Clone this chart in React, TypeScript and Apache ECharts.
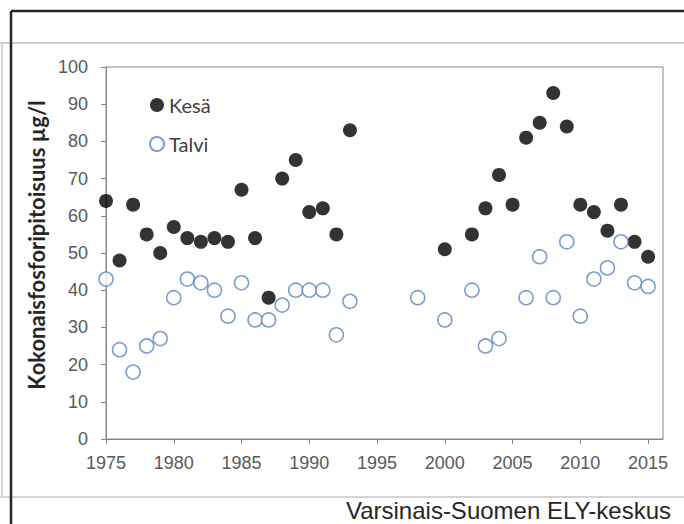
import React, { useEffect, useRef } from "react";
import * as echarts from "echarts";

const kesaYears = [1975, 1976, 1977, 1978, 1979, 1980, 1981, 1982, 1983, 1984, 1985, 1986, 1987, 1988, 1989, 1990, 1991, 1992, 1993, 2000, 2002, 2003, 2004, 2005, 2006, 2007, 2008, 2009, 2010, 2011, 2012, 2013, 2014, 2015];
const kesaValues = [64, 48, 63, 55, 50, 57, 54, 53, 54, 53, 67, 54, 38, 70, 75, 61, 62, 55, 83, 51, 55, 62, 71, 63, 81, 85, 93, 84, 63, 61, 56, 63, 53, 49];

const talviYears = [1975, 1976, 1977, 1978, 1979, 1980, 1981, 1982, 1983, 1984, 1985, 1986, 1987, 1988, 1989, 1990, 1991, 1992, 1993, 1998, 2000, 2002, 2003, 2004, 2006, 2007, 2008, 2009, 2010, 2011, 2012, 2013, 2014, 2015];
const talviValues = [43, 24, 18, 25, 27, 38, 43, 42, 40, 33, 42, 32, 32, 36, 40, 40, 40, 28, 37, 38, 32, 40, 25, 27, 38, 49, 38, 53, 33, 43, 46, 53, 42, 41];

const xTicks = [1975, 1980, 1985, 1990, 1995, 2000, 2005, 2010, 2015];
const seriesNames = ["Kesä", "Talvi"];
const yTitle = "Kokonaisfosforipitoisuus µg/l";
const footer = "Varsinais-Suomen ELY-keskus";

export default function App() {
  const ref = useRef<HTMLDivElement>(null);
  useEffect(() => {
    if (!ref.current) return;
    const chart = echarts.init(ref.current, null, { renderer: "svg" });
    const axisGray = "#868686";
    const labelColor = "#595959";
    chart.setOption({
      animation: false,
      backgroundColor: "#ffffff",
      grid: {
        left: 106,
        top: 67,
        right: 21,
        bottom: 85,
        show: true,
        borderColor: axisGray,
        borderWidth: 1,
        backgroundColor: "transparent",
      },
      legend: {
        orient: "vertical",
        left: 144,
        top: 90,
        itemWidth: 14,
        itemHeight: 14,
        itemGap: 19,
        icon: "circle",
        data: seriesNames,
        textStyle: { fontFamily: "Lato", fontSize: 20, color: "#404040" },
      },
      xAxis: {
        type: "value",
        min: 1975,
        max: 2016.1,
        interval: 5,
        splitLine: { show: false },
        axisLine: { lineStyle: { color: axisGray, width: 1 } },
        axisTick: { show: true, length: 5, customValues: xTicks, lineStyle: { color: axisGray } },
        axisLabel: {
          customValues: xTicks,
          formatter: (v: number) => String(v),
          margin: 15,
          color: labelColor,
          fontSize: 18,
          fontFamily: "Liberation Sans, Arial, sans-serif",
        },
      },
      yAxis: {
        type: "value",
        min: 0,
        max: 100,
        interval: 10,
        splitLine: { show: false },
        axisLine: { show: true, lineStyle: { color: axisGray, width: 1 } },
        axisTick: { show: true, length: 5, lineStyle: { color: axisGray } },
        axisLabel: {
          margin: 18,
          color: labelColor,
          fontSize: 18,
          fontFamily: "Liberation Sans, Arial, sans-serif",
        },
      },
      series: [
        {
          name: seriesNames[0],
          type: "scatter",
          symbol: "circle",
          symbolSize: 14,
          itemStyle: { color: "#000000" },
          data: kesaYears.map((y, i) => [y, kesaValues[i]]),
        },
        {
          name: seriesNames[1],
          type: "scatter",
          symbol: "circle",
          symbolSize: 14,
          itemStyle: { color: "#ffffff", borderColor: "#5a86c0", borderWidth: 1.6 },
          data: talviYears.map((y, i) => [y, talviValues[i]]),
        },
      ],
      graphic: [
        { type: "line", shape: { x1: 0, y1: 43, x2: 684, y2: 43 }, style: { stroke: "#cfcfcf", lineWidth: 2 }, silent: true },
        { type: "line", shape: { x1: 0, y1: 497, x2: 684, y2: 497 }, style: { stroke: "#d4d4d4", lineWidth: 2 }, silent: true },
        { type: "line", shape: { x1: 2, y1: 43, x2: 2, y2: 497 }, style: { stroke: "#d4d4d4", lineWidth: 2 }, silent: true },
        { type: "line", shape: { x1: 11, y1: 11, x2: 684, y2: 11 }, style: { stroke: "#262626", lineWidth: 2.5 }, silent: true },
        { type: "line", shape: { x1: 11, y1: 11, x2: 11, y2: 524 }, style: { stroke: "#262626", lineWidth: 2.5 }, silent: true },
        {
          type: "text",
          x: 36,
          y: 245,
          rotation: Math.PI / 2,
          style: {
            text: yTitle,
            fontFamily: "Lato",
            fontWeight: "bold",
            fontSize: 22,
            fill: "#262626",
            align: "center",
            verticalAlign: "middle",
          },
        },
        {
          type: "text",
          x: 671,
          y: 510,
          style: {
            text: footer,
            fontFamily: "Liberation Sans, Arial, sans-serif",
            fontSize: 24,
            fill: "#262626",
            align: "right",
            verticalAlign: "middle",
          },
        },
      ],
    });
    return () => chart.dispose();
  }, []);
  return <div ref={ref} style={{ position: "fixed", left: 0, top: 0, width: 684, height: 524 }} />;
}
